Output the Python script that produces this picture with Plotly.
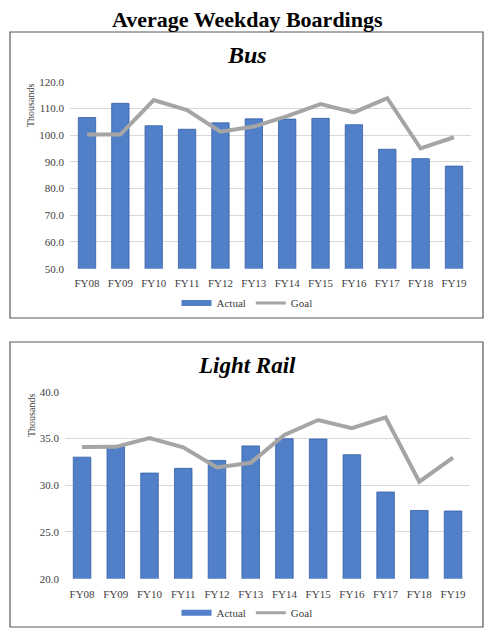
import plotly.graph_objects as go

# figure is drawn inside the page body (8px default margin), so keep it 16px smaller
W, H = 478, 622
OFF = 8

years = ['FY08', 'FY09', 'FY10', 'FY11', 'FY12', 'FY13',
         'FY14', 'FY15', 'FY16', 'FY17', 'FY18', 'FY19']

bus_actual = [106.6, 111.9, 103.5, 102.2, 104.6, 106.1, 106.0, 106.3, 103.9, 94.7, 91.2, 88.4]
bus_goal = [100.2, 100.2, 113.1, 109.4, 101.3, 103.2, 107.1, 111.6, 108.5, 113.8, 95.0, 99.2]

rail_actual = [33.0, 34.2, 31.3, 31.8, 32.65, 34.2, 34.97, 34.94, 33.26, 29.27, 27.3, 27.24]
rail_goal = [34.08, 34.1, 35.04, 34.05, 31.9, 32.4, 35.37, 36.97, 36.1, 37.25, 30.37, 32.94]

bus_ticks = [50, 60, 70, 80, 90, 100, 110, 120]
rail_ticks = [20, 25, 30, 35, 40]

SERIF = 'Liberation Serif, Times New Roman, serif'
BAR = '#5180C8'
BAR_EDGE = '#345EA8'
GOAL = '#A5A5A5'
TXT = '#404040'


def py(px):
    # page pixel from top -> paper y
    return 1 - (px - OFF) / H


def pxx(px):
    return (px - OFF) / W


fig = go.Figure()

panels = [
    ('x', 'y', 'legend', bus_actual, bus_goal),
    ('x2', 'y2', 'legend2', rail_actual, rail_goal),
]
for xa, ya, leg, actual, goal in panels:
    fig.add_trace(go.Bar(x=years, y=actual, name='Actual', marker_color=BAR,
                         marker_line=dict(color=BAR_EDGE, width=0.8),
                         xaxis=xa, yaxis=ya, showlegend=False))
    fig.add_trace(go.Scatter(x=years, y=goal, name='Goal', mode='lines',
                             line=dict(color=GOAL, width=4),
                             xaxis=xa, yaxis=ya, showlegend=False))
    # legend swatches: flat bar for Actual, grey line for Goal
    fig.add_trace(go.Scatter(x=[None], y=[None], name='Actual', mode='lines',
                             line=dict(color=BAR, width=6),
                             xaxis=xa, yaxis=ya, legend=leg))
    fig.add_trace(go.Scatter(x=[None], y=[None], name='Goal', mode='lines',
                             line=dict(color=GOAL, width=3),
                             xaxis=xa, yaxis=ya, legend=leg))

axis_font = dict(family=SERIF, size=11, color=TXT)
leg_font = dict(family=SERIF, size=11, color=TXT)

fig.update_layout(
    width=W, height=H,
    margin=dict(l=0, r=0, t=0, b=0, autoexpand=False),
    paper_bgcolor='white', plot_bgcolor='white',
    bargap=0.48,
    font=dict(family=SERIF, color=TXT),
    xaxis=dict(domain=[pxx(70.3), pxx(470.7)], anchor='y', tickfont=axis_font,
               showline=False, ticks='outside', ticklen=4, tickcolor='white'),
    yaxis=dict(domain=[py(268.7), py(81.7)], anchor='x', range=[50, 120],
               tickvals=bus_ticks, tickformat='.1f', tickfont=axis_font,
               gridcolor='#D9D9D9', gridwidth=1, zeroline=False,
               ticks='outside', ticklen=3, tickcolor='white'),
    xaxis2=dict(domain=[pxx(65.2), pxx(469.9)], anchor='y2', tickfont=axis_font,
                showline=False, ticks='outside', ticklen=5, tickcolor='white'),
    yaxis2=dict(domain=[py(578.7), py(391.7)], anchor='x2', range=[20, 40],
                tickvals=rail_ticks, tickformat='.1f', tickfont=axis_font,
                gridcolor='#D9D9D9', gridwidth=1, zeroline=False,
                ticks='outside', ticklen=3, tickcolor='white'),
    legend=dict(orientation='h', x=pxx(247), xanchor='center', y=py(303), yanchor='middle',
                font=leg_font, bgcolor='rgba(0,0,0,0)', itemwidth=30,
                tracegroupgap=0),
    legend2=dict(orientation='h', x=pxx(247), xanchor='center', y=py(612.7), yanchor='middle',
                 font=leg_font, bgcolor='rgba(0,0,0,0)', itemwidth=30,
                 tracegroupgap=0),
    shapes=[
        dict(type='rect', xref='paper', yref='paper', x0=pxx(10), x1=pxx(483),
             y0=py(318), y1=py(32), line=dict(color='#595959', width=1.2)),
        dict(type='rect', xref='paper', yref='paper', x0=pxx(10), x1=pxx(483),
             y0=py(627), y1=py(342), line=dict(color='#595959', width=1.2)),
    ],
    annotations=[
        dict(text='<b>Average Weekday Boardings</b>', xref='paper', yref='paper',
             x=pxx(247), y=1, xanchor='center', yanchor='top', showarrow=False,
             borderpad=0, yshift=2, font=dict(family=SERIF, size=22, color='black')),
        dict(text='<b><i>Bus</i></b>', xref='paper', yref='paper',
             x=pxx(247), y=py(55), xanchor='center', yanchor='middle', showarrow=False,
             font=dict(family=SERIF, size=24, color='black')),
        dict(text='<b><i>Light Rail</i></b>', xref='paper', yref='paper',
             x=pxx(247), y=py(365), xanchor='center', yanchor='middle', showarrow=False,
             font=dict(family=SERIF, size=23, color='black')),
        dict(text='Thousands', xref='paper', yref='paper', textangle=-90,
             x=pxx(31), y=py(106), xanchor='center', yanchor='middle', showarrow=False,
             font=dict(family=SERIF, size=10, color=TXT)),
        dict(text='Thousands', xref='paper', yref='paper', textangle=-90,
             x=pxx(31), y=py(416), xanchor='center', yanchor='middle', showarrow=False,
             font=dict(family=SERIF, size=10, color=TXT)),
    ],
)

fig.write_html('out.html')
